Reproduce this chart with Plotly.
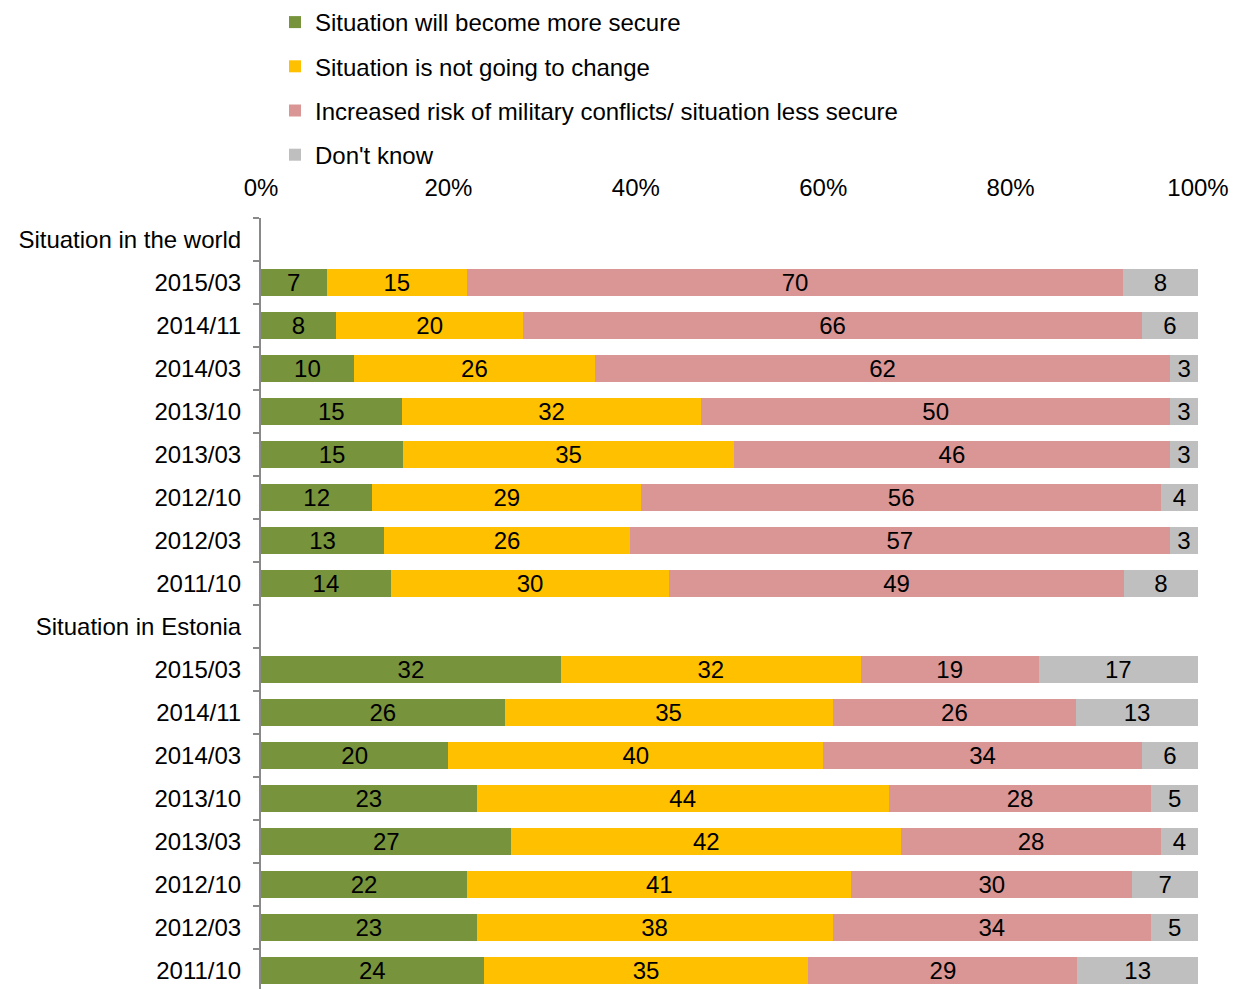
import plotly.graph_objects as go

# Survey periods (newest first) shown under each block
periods = ["2015/03", "2014/11", "2014/03", "2013/10", "2013/03", "2012/10", "2012/03", "2011/10"]
world_header = "Situation in the world"
estonia_header = "Situation in Estonia"

series_names = [
    "Situation will become more secure",
    "Situation is not going to change",
    "Increased risk of military conflicts/ situation less secure",
    "Don't know",
]
series_colors = ["#77933C", "#FFC000", "#D99694", "#BFBFBF"]

# Answers about the situation in the world (%)
world_secure = [7, 8, 10, 15, 15, 12, 13, 14]
world_no_change = [15, 20, 26, 32, 35, 29, 26, 30]
world_less_secure = [70, 66, 62, 50, 46, 56, 57, 49]
world_dont_know = [8, 6, 3, 3, 3, 4, 3, 8]

# Answers about the situation in Estonia (%)
estonia_secure = [32, 26, 20, 23, 27, 22, 23, 24]
estonia_no_change = [32, 35, 40, 44, 42, 41, 38, 35]
estonia_less_secure = [19, 26, 34, 28, 28, 30, 34, 29]
estonia_dont_know = [17, 13, 6, 5, 4, 7, 5, 13]

# Percentage axis ticks
pct_ticks = [0, 20, 40, 60, 80, 100]
pct_labels = ["0%", "20%", "40%", "60%", "80%", "100%"]

# Row labels: a header row (no bar) before each block of periods
row_labels = [world_header] + periods + [estonia_header] + periods
row_pos = list(range(len(row_labels)))

world_series = [world_secure, world_no_change, world_less_secure, world_dont_know]
estonia_series = [estonia_secure, estonia_no_change, estonia_less_secure, estonia_dont_know]

FONT = "Liberation Sans, Arial, sans-serif"
FS = 24

fig = go.Figure()
for i, name in enumerate(series_names):
    vals = [None] + world_series[i] + [None] + estonia_series[i]
    fig.add_trace(go.Bar(
        name=name,
        x=vals,
        y=row_pos,
        orientation="h",
        marker=dict(color=series_colors[i], line=dict(width=0)),
        text=[("" if v is None else str(v)) for v in vals],
        textposition="inside",
        insidetextanchor="middle",
        textangle=0,
        textfont=dict(family=FONT, size=FS, color="#000000"),
        legendgroup=f"g{i}",
        hoverinfo="x+y+name",
    ))

fig.update_layout(
    barmode="stack",
    barnorm="percent",
    bargap=0.37,
    width=1239,
    height=989,
    margin=dict(l=261, r=41, t=218, b=0, autoexpand=False),
    paper_bgcolor="white",
    plot_bgcolor="white",
    font=dict(family=FONT, size=FS, color="#000000"),
    uniformtext=dict(minsize=FS, mode="show"),
    showlegend=True,
    legend=dict(
        xref="container", yref="container",
        x=275 / 1239, y=1.0,
        xanchor="left", yanchor="top",
        orientation="v",
        traceorder="grouped",
        tracegroupgap=10,
        font=dict(family=FONT, size=FS, color="#000000"),
        bgcolor="rgba(0,0,0,0)",
        itemclick=False,
    ),
)

fig.update_xaxes(
    side="top",
    range=[0, 100],
    tickmode="array",
    tickvals=pct_ticks,
    ticktext=pct_labels,
    showgrid=False,
    zeroline=False,
    showline=False,
    ticks="",
    ticklabelstandoff=16,
    tickfont=dict(family=FONT, size=FS, color="#000000"),
)

fig.update_yaxes(
    range=[len(row_labels) - 0.57, -0.5],
    tickmode="array",
    tickvals=row_pos,
    ticktext=row_labels,
    ticks="",
    ticklabelstandoff=13,
    showgrid=False,
    zeroline=False,
    showline=True,
    linecolor="#898989",
    linewidth=2,
    minor=dict(
        tickmode="array",
        tickvals=[p - 0.5 for p in row_pos] + [row_pos[-1] + 0.5],
        ticks="outside",
        ticklen=6,
        tickwidth=2,
        tickcolor="#898989",
        showgrid=False,
    ),
    tickfont=dict(family=FONT, size=FS, color="#000000"),
)

fig.write_html("out.html")
